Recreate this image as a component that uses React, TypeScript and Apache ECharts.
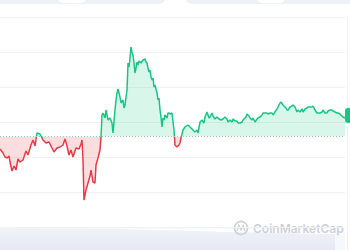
import React, { useEffect, useRef } from "react";
import * as echarts from "echarts";

// time stamps (arbitrary minute index) and price values (arbitrary units)
const times = [0,3,5,7,9,10,12,14,16,18,20,23,26,28,31,33,35,37,40,43,46,49,52,54,57,60,63,65,67,69,71,73,76,79,81,82,83,84,86,88,90,91,93,95,96,98,100,101,102,103,105,106,108,110,112,113,115,116,117,118,120,121,123,124,125,127,128,129,130,131,132,133,134,135,136,137,138,139,141,143,145,146,147,148,149,150,151,152,153,154,155,157,158,159,160,161,162,163,164,165,167,168,169,170,172,174,175,177,179,180,181,183,185,188,190,193,195,197,198,200,202,204,205,207,208,209,210,212,213,215,217,219,221,223,225,227,228,230,232,233,235,237,238,240,242,243,245,246,247,249,250,252,253,255,257,258,260,262,263,265,267,268,270,272,273,275,277,278,279,280,281,283,285,286,287,288,290,292,293,295,297,298,300,302,303,305,307,308,310,312,313,315,317,318,320,322,323,325,327,328,330,332,333,335,337,338,340,342,343,345];
const prices = [78,74,70,69,71,65,56,61,57,68,65,67,76,72,82,87,81,94,93,87,84,85,79,75,79,80,82,88,81,72,77,70,79,78,83,87,67,27,37,44,51,57,45,44,62,69,77,90,112,114,109,117,107,109,104,94,117,127,134,138,130,124,127,119,122,137,164,160,169,180,175,172,164,154,159,165,162,166,164,167,168,165,164,159,155,157,150,147,149,140,142,134,127,129,117,110,100,109,107,112,109,114,114,113,114,97,82,80,82,84,89,97,100,102,100,97,95,97,94,105,107,104,110,115,112,109,110,114,111,108,110,108,107,108,110,108,105,107,105,108,106,106,104,104,105,107,109,110,113,111,109,107,109,105,108,109,110,112,114,114,114,113,114,114,112,115,118,120,122,124,125,122,120,119,117,117,120,121,122,120,115,117,115,118,115,118,119,120,120,120,121,117,114,114,114,115,117,114,114,116,117,117,116,115,114,114,113,111,110,109];
const openPrice = 90.5;
const yTicks = [0, 35, 70, 105, 140, 175, 210];
const brand = "CoinMarketCap";

const GREEN = "#16c784";
const RED = "#ea3943";

export default function App() {
  const ref = useRef<HTMLDivElement>(null);
  useEffect(() => {
    if (!ref.current) return;
    const chart = echarts.init(ref.current, null, { renderer: "svg" });
    const data = times.map((t, i) => [t, prices[i]]);
    chart.setOption({
      animation: false,
      grid: { left: 0, right: 5, top: 17, bottom: 23, containLabel: false },
      xAxis: {
        type: "value",
        min: 0,
        max: 345,
        axisLine: { show: false },
        axisTick: { show: false },
        axisLabel: { show: false },
        splitLine: { show: false },
      },
      yAxis: {
        type: "value",
        min: yTicks[0],
        max: yTicks[yTicks.length - 1],
        interval: 35,
        axisLine: { show: false },
        axisTick: { show: false },
        axisLabel: { show: false },
        splitLine: { show: true, lineStyle: { color: "#eff1f5", width: 1 } },
      },
      visualMap: {
        show: false,
        type: "piecewise",
        dimension: 1,
        seriesIndex: 0,
        pieces: [
          { gt: openPrice, lte: 10000, color: GREEN },
          { gte: -10000, lte: openPrice, color: RED },
        ],
      },
      graphic: [
        { type: "rect", shape: { x: -10, y: -10, width: 175, height: 14, r: 6 }, style: { fill: "#eef1f5" }, silent: true },
        { type: "rect", shape: { x: 58, y: -10, width: 28, height: 13, r: 5 }, style: { fill: "#ffffff" }, silent: true },
        { type: "rect", shape: { x: 186, y: -10, width: 175, height: 14, r: 6 }, style: { fill: "#eef1f5" }, silent: true },
        { type: "rect", shape: { x: 257, y: -10, width: 28, height: 13, r: 5 }, style: { fill: "#ffffff" }, silent: true },
        { type: "line", shape: { x1: 347.5, y1: 16, x2: 347.5, y2: 250 }, style: { stroke: "#eff1f5", lineWidth: 1 }, silent: true },
        {
          type: "polygon",
          shape: { points: [[0, 228], [120, 229], [230, 232], [335, 234], [335, 250], [0, 250]] },
          style: {
            fill: new echarts.graphic.LinearGradient(0, 0, 0, 1, [
              { offset: 0, color: "#f1f2f9" },
              { offset: 1, color: "#e6e9f5" },
            ]),
          },
          silent: true,
        },
        { type: "line", shape: { x1: 0, y1: 228, x2: 345, y2: 228 }, style: { stroke: "#f2f3f8", lineWidth: 1 }, silent: true },
        { type: "rect", shape: { x: 335, y: 230, width: 10, height: 20 }, style: { fill: "#f7f8fc" }, silent: true },
        { type: "rect", shape: { x: 345, y: 108, width: 20, height: 15, r: 3 }, style: { fill: GREEN }, silent: true },
        { type: "circle", shape: { cx: 241, cy: 228, r: 6.5 }, style: { fill: "none", stroke: "#cdd1da", lineWidth: 1.6 }, silent: true },
        { type: "polyline", shape: { points: [[237, 231], [238.8, 225.5], [241, 230], [243.2, 225.5], [245, 231]] }, style: { fill: "none", stroke: "#cdd1da", lineWidth: 1.4 }, silent: true },
        {
          type: "text",
          x: 253,
          y: 228,
          style: {
            text: brand,
            fill: "#cdd1da",
            font: "600 12px Inter, sans-serif",
            verticalAlign: "middle",
            align: "left",
          },
          silent: true,
        },
      ],
      series: [
        {
          type: "line",
          data,
          showSymbol: false,
          symbol: "none",
          lineStyle: { width: 1.5 },
          areaStyle: { origin: openPrice, opacity: 0.17 },
          markLine: {
            silent: true,
            symbol: "none",
            label: { show: false },
            lineStyle: { type: [1, 2], color: "#b4bbc8", width: 1 },
            data: [{ yAxis: openPrice }],
          },
        },
      ],
    });
    return () => chart.dispose();
  }, []);
  return <div ref={ref} style={{ position: "fixed", left: 0, top: 0, width: 350, height: 250, background: "#fff" }} />;
}
